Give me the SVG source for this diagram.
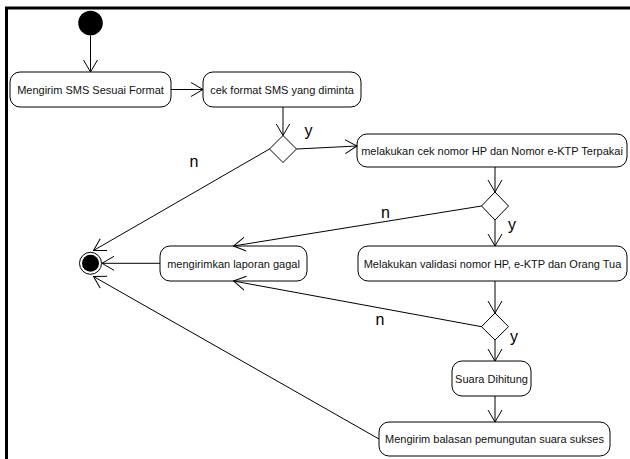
<svg xmlns="http://www.w3.org/2000/svg" width="630" height="459" viewBox="0 0 630 459">
  <style>
    .act rect { fill: #fff; stroke: #000; stroke-width: 1; }
    .act text { font-family: "Liberation Sans", Arial, sans-serif; font-size: 11px; fill: #111; text-anchor: middle; dominant-baseline: central; }
    .dec polygon { fill: #fff; stroke: #000; stroke-width: 1; }
    .lbl { font-family: "Liberation Sans", Arial, sans-serif; font-size: 16px; fill: #000; }
    #edges line, #edges path { stroke: #000; stroke-width: 1; fill: none; marker-end: url(#open); }
  </style>
  <defs>
    <marker id="open" viewBox="0 0 13 16" refX="12" refY="8" markerWidth="13" markerHeight="16" markerUnits="userSpaceOnUse" orient="auto">
      <path d="M0,1 L12,8 L0,15" fill="none" stroke="#000" stroke-width="1"/>
    </marker>
  </defs>

  <rect width="630" height="459" fill="#fff"/>
  <!-- frame -->
  <path d="M6.5,459 V8 H630" fill="none" stroke="#000" stroke-width="3"/>

  <g id="start"><circle cx="90.5" cy="23" r="12.3" fill="#000"/></g>

  <g id="end">
    <circle cx="90.5" cy="263.3" r="11" fill="#fff" stroke="#000" stroke-width="1"/>
    <circle cx="90.5" cy="263.3" r="8.5" fill="#000"/>
  </g>

  <g id="kirim-sms" class="act"><rect x="10" y="72" width="161" height="35" rx="10"/><text x="90.5" y="89.5">Mengirim SMS Sesuai Format</text></g>
  <g id="cek-format" class="act"><rect x="203" y="72" width="158" height="35" rx="10"/><text x="282" y="89.5">cek format SMS yang diminta</text></g>
  <g id="cek-nomor" class="act"><rect x="357" y="134" width="270" height="33" rx="10"/><text x="492" y="150.5">melakukan cek nomor HP dan Nomor e-KTP Terpakai</text></g>
  <g id="validasi" class="act"><rect x="358" y="246" width="269" height="35" rx="10"/><text x="492.5" y="263.5">Melakukan validasi nomor HP, e-KTP dan Orang Tua</text></g>
  <g id="laporan-gagal" class="act"><rect x="160" y="246" width="147" height="35" rx="10"/><text x="233.5" y="263.5">mengirimkan laporan gagal</text></g>
  <g id="suara-dihitung" class="act"><rect x="452" y="361" width="79" height="35" rx="10"/><text x="491.5" y="378.5">Suara Dihitung</text></g>
  <g id="balasan-sukses" class="act"><rect x="379" y="422" width="231" height="34" rx="10"/><text x="494.5" y="439">Mengirim balasan pemungutan suara sukses</text></g>

  <g id="cek-format-ok" class="dec"><polygon points="283,135.5 296.5,149 283,162.5 269.5,149"/></g>
  <g id="nomor-terpakai" class="dec"><polygon points="495,192 508.5,206 495,220 481.5,206"/></g>
  <g id="validasi-ok" class="dec"><polygon points="495,313 508.5,326.7 495,340 481.5,326.7"/></g>

  <g id="edges">
    <line x1="90.5" y1="35.3" x2="90.5" y2="72"/>
    <line x1="171" y1="89.5" x2="203" y2="89.5"/>
    <line x1="283" y1="107" x2="283" y2="135.5"/>
    <line x1="296.5" y1="149" x2="357" y2="146"/>
    <line x1="269.5" y1="149" x2="93.5" y2="250.5"/>
    <line x1="495" y1="167" x2="495" y2="192"/>
    <line x1="481.5" y1="206" x2="233.5" y2="246"/>
    <line x1="495" y1="220" x2="495" y2="246"/>
    <line x1="495" y1="281" x2="495" y2="313"/>
    <line x1="481.5" y1="326.7" x2="233.5" y2="281"/>
    <line x1="495" y1="340" x2="495" y2="361"/>
    <line x1="495" y1="396" x2="495" y2="422"/>
    <line x1="160" y1="263.3" x2="102" y2="263.3"/>
    <line x1="379" y1="439" x2="93.5" y2="276.5"/>
  </g>

  <g id="guards">
    <text class="lbl" x="304.5" y="136">y</text>
    <text class="lbl" x="189.5" y="166.5">n</text>
    <text class="lbl" x="381" y="217.5">n</text>
    <text class="lbl" x="508" y="230">y</text>
    <text class="lbl" x="375.5" y="325">n</text>
    <text class="lbl" x="510" y="341.5">y</text>
  </g>
</svg>
